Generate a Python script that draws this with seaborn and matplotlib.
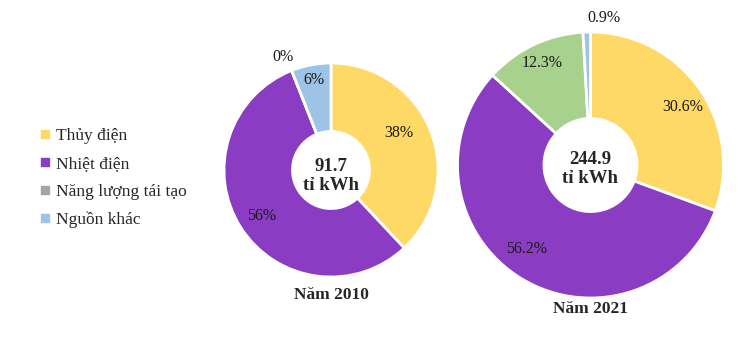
import matplotlib
matplotlib.use("Agg")
import matplotlib.pyplot as plt
import seaborn as sns
import numpy as np
from matplotlib.lines import Line2D

sns.set_style("white")
plt.rcParams['font.family'] = ['Liberation Serif', 'DejaVu Serif']

categories = ["Thủy điện", "Nhiệt điện", "Năng lượng tái tạo", "Nguồn khác"]
values_2010 = [38, 56, 0, 6]
values_2021 = [30.6, 56.2, 12.3, 0.9]
labels_2010 = ["38%", "56%", "0%", "6%"]
labels_2021 = ["30.6%", "56.2%", "12.3%", "0.9%"]
totals = ["91.7\ntỉ kWh", "244.9\ntỉ kWh"]
titles = ["Năm 2010", "Năm 2021"]

legend_colors = sns.color_palette(["#FFD966", "#8A3CC2", "#A5A5A5", "#9DC3E6"])
colors_2010 = legend_colors
colors_2021 = sns.color_palette(["#FFD966", "#8A3CC2", "#A9D18E", "#9DC3E6"])

W, H = 749, 338
fig = plt.figure(figsize=(W / 100, H / 100), dpi=100)


def px_axes(cx, cy, r):
    return fig.add_axes([(cx - r) / W, (H - cy - r) / H, 2 * r / W, 2 * r / H])


def donut(ax, vals, cols, labs, dists, offs, total, total_y, title, title_y, hole):
    wedges, _ = ax.pie(vals, colors=cols, startangle=90, counterclock=False,
                       radius=1, wedgeprops=dict(width=1 - hole, edgecolor="white", linewidth=2))
    for w, lab, d, o in zip(wedges, labs, dists, offs):
        ang = np.deg2rad((w.theta1 + w.theta2) / 2 + o)
        ax.text(d * np.cos(ang), d * np.sin(ang), lab, ha="center", va="center",
                fontsize=11.5, color="#1a1a1a")
    ax.text(0, total_y, total, ha="center", va="center", fontsize=13.5, fontweight="bold",
            linespacing=1.15)
    ax.text(0, title_y, title, ha="center", va="center", fontsize=12.5, fontweight="bold")
    ax.set_xlim(-1, 1)
    ax.set_ylim(-1, 1)
    ax.set_aspect("equal")
    ax.axis("off")


ax1 = px_axes(331, 170, 107)
donut(ax1, values_2010, colors_2010, labels_2010,
      [0.72, 0.78, 1.15, 0.86], [7, 1, 1.5, 0], totals[0], -0.06, titles[0], -1.17, 0.36)

ax2 = px_axes(590.5, 165, 133)
donut(ax2, values_2021, colors_2021, labels_2021,
      [0.82, 0.79, 0.85, 1.11], [-3, -6, 0, -7], totals[1], -0.03, titles[1], -1.08, 0.35)

handles = [Line2D([], [], marker="s", linestyle="none", markersize=6,
                  markerfacecolor=c, markeredgecolor=c) for c in legend_colors]
fig.legend(handles, categories, loc="center left", bbox_to_anchor=(22 / W, 1 - 178 / H),
           frameon=False, fontsize=12.5, labelspacing=0.68, handletextpad=0.25,
           handlelength=0.8)

fig.savefig("out.png", dpi=100)
